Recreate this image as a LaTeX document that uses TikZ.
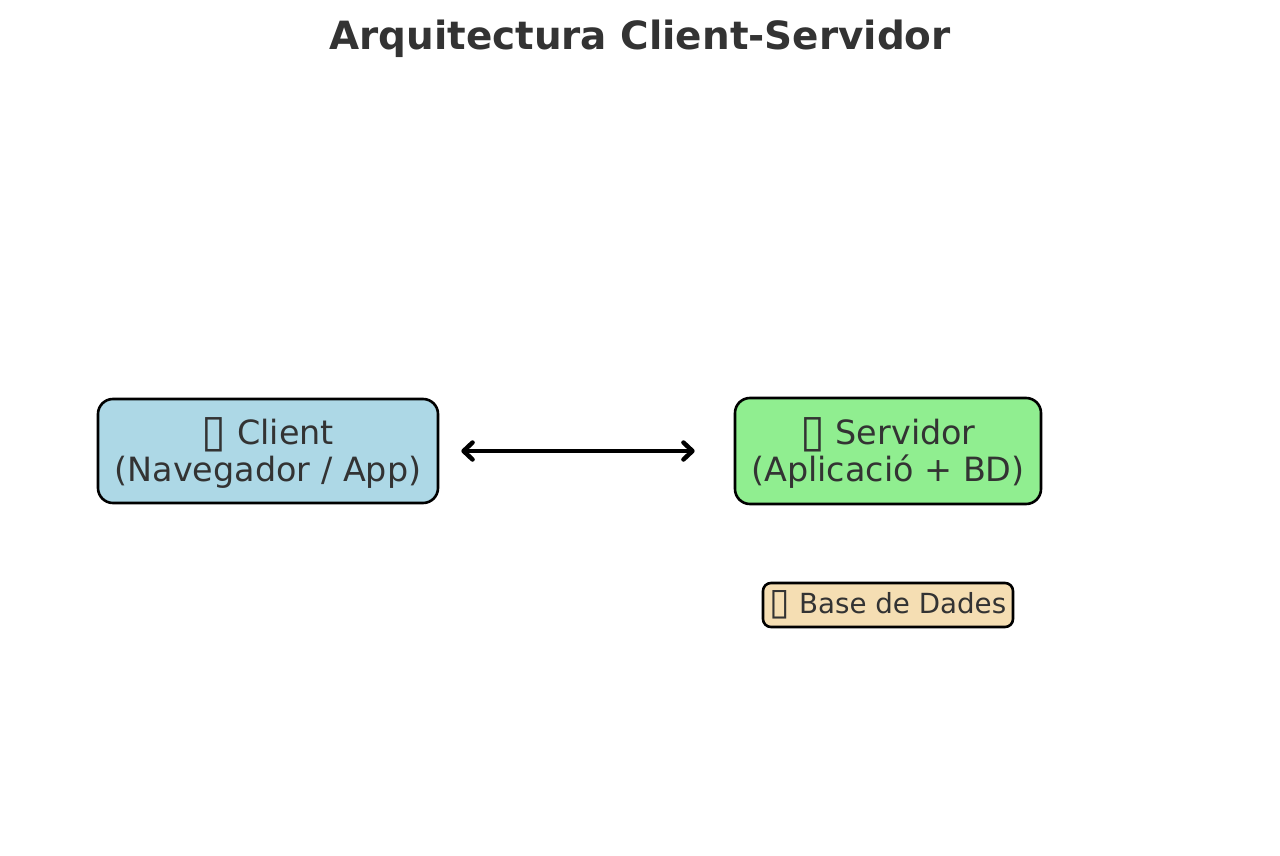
\documentclass[tikz,border=0pt]{standalone}
\usepackage{fontspec}
\usepackage{graphicx}
\setmainfont{DejaVu Sans}
\usetikzlibrary{arrows.meta}
\definecolor{txt}{HTML}{333333}
\definecolor{clientfill}{HTML}{ADD8E6}
\definecolor{serverfill}{HTML}{90EE90}
\definecolor{dbfill}{HTML}{F5DEB3}
\newcommand{\missingglyph}{\raisebox{-0.06em}{\scalebox{1.35}{▯}}}
\tikzset{
  boxstyle/.style={draw=black, line width=2.6pt, rounded corners=15pt, text=txt, align=center,
    font=\fontsize{33.4}{37.5}\selectfont, inner sep=0pt},
  dbstyle/.style={draw=black, line width=2.6pt, rounded corners=8pt, text=txt, align=center,
    font=\fontsize{27.7}{32}\selectfont, inner sep=0pt, fill=dbfill},
  linkarrow/.style={line width=4.5pt, black, {Straight Barb[length=9pt,width=17pt,line cap=round,line join=round]}-{Straight Barb[length=9pt,width=17pt,line cap=round,line join=round]}},
  titlestyle/.style={text=txt, font=\fontsize{38.9}{44}\selectfont\bfseries}
}
\begin{document}
\begin{tikzpicture}[x=1pt,y=-1pt]
\useasboundingbox (0,0) rectangle (1280,856);
\node[titlestyle] (title) at (640,39) {Arquitectura Client-Servidor};
\node[boxstyle, fill=clientfill, minimum width=340pt, minimum height=104pt, text depth=0pt] (client) at (268,451) {};
\node[text=txt, align=center, font=\fontsize{33.4}{37.5}\selectfont] (clientlabel) at (268,453) {\missingglyph{} Client\\(Navegador / App)};
\node[boxstyle, fill=serverfill, minimum width=306pt, minimum height=106pt] (server) at (888,451) {};
\node[text=txt, align=center, font=\fontsize{33.4}{37.5}\selectfont] (serverlabel) at (888,453) {\missingglyph{} Servidor\\(Aplicació + BD)};
\node[dbstyle, minimum width=250pt, minimum height=44pt] (db) at (888,605) {\missingglyph{} Base de Dades};
\draw[linkarrow] ([xshift=22pt]client.east) -- ([xshift=-39pt]server.west);
\end{tikzpicture}
\end{document}
